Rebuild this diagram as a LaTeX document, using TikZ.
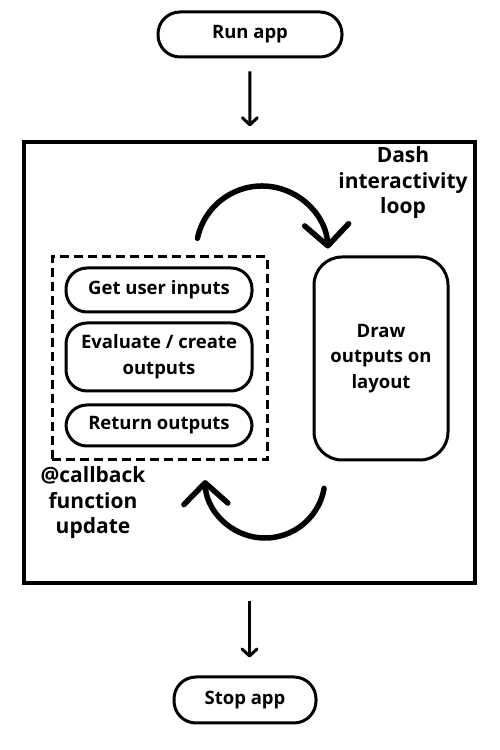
\documentclass[tikz,border=0pt]{standalone}
\usepackage{fontspec}
\setmainfont{Open Sans}
\usetikzlibrary{arrows.meta,calc}

\begin{document}
\begin{tikzpicture}[x=1pt,y=1pt,
    terminal/.style ={draw, line width=3pt, rounded corners=22pt, inner sep=0pt, align=center,
                      minimum height=45pt, font=\fontsize{18.5}{26}\selectfont\bfseries},
    steppill/.style ={draw, line width=3pt, rounded corners=21pt, inner sep=0pt, align=center,
                      minimum width=186pt, font=\fontsize{18.5}{26}\selectfont\bfseries},
    looplabel/.style ={align=center, inner sep=0pt, font=\fontsize{21}{25.5}\selectfont\bfseries},
    flow/.style ={line width=3pt, -{Straight Barb[length=7pt,width=15pt,round]}},
    cycle/.style ={line width=5.5pt, line cap=round, -{Straight Barb[length=21pt,width=44pt,round]}}]
   \useasboundingbox (0,0) rectangle (500,750);
   \node[terminal, minimum width=184pt] (run) at (250,715.5) {Run app};
   \node[draw, line width=3.5pt, minimum width=451pt, minimum height=441pt] (loop) at (249.5,387.5) {};
   \node[terminal, minimum width=142pt, minimum height=46pt] (stop) at (245,50) {Stop app};
   \node[looplabel] (dash) at (403,567) {Dash\\interactivity\\loop};
   \node[draw, line width=3pt, dash pattern=on 9pt off 5pt, minimum width=215pt, minimum height=203pt] (callback) at (159.5,391.5) {};
   \node[steppill, minimum height=44pt] (inputs) at (159,460) {Get user inputs};
   \node[steppill, minimum height=68pt] (evaluate) at (159,393) {Evaluate / create\\outputs};
   \node[steppill, minimum height=41pt] (return) at (159,324.5) {Return outputs};
   \node[draw, line width=3pt, rounded corners=28pt, align=center, inner sep=0pt, minimum width=134pt,
         minimum height=203pt, font=\fontsize{18.5}{25.5}\selectfont\bfseries] (draw) at (381,391.5) {Draw\\outputs on\\layout};
   \node[looplabel] (update) at (93,247) {@callback\\function\\update};
   \coordinate (topc) at (262,498);
   \coordinate (botc) at (265,272);
   \draw[flow, shorten <=13pt, shorten >=14pt] (run) -- (loop);
   \draw[flow, shorten <=16pt, shorten >=18pt] (loop) -- (loop.south |- stop.north);
   \draw[cycle] ($(topc)+(168:66)$) arc[start angle=168, end angle=3, radius=66];
   \draw[cycle] ($(botc)+(-10:60)$) arc[start angle=-10, end angle=-178, radius=60];
 \end{tikzpicture}
\end{document}
